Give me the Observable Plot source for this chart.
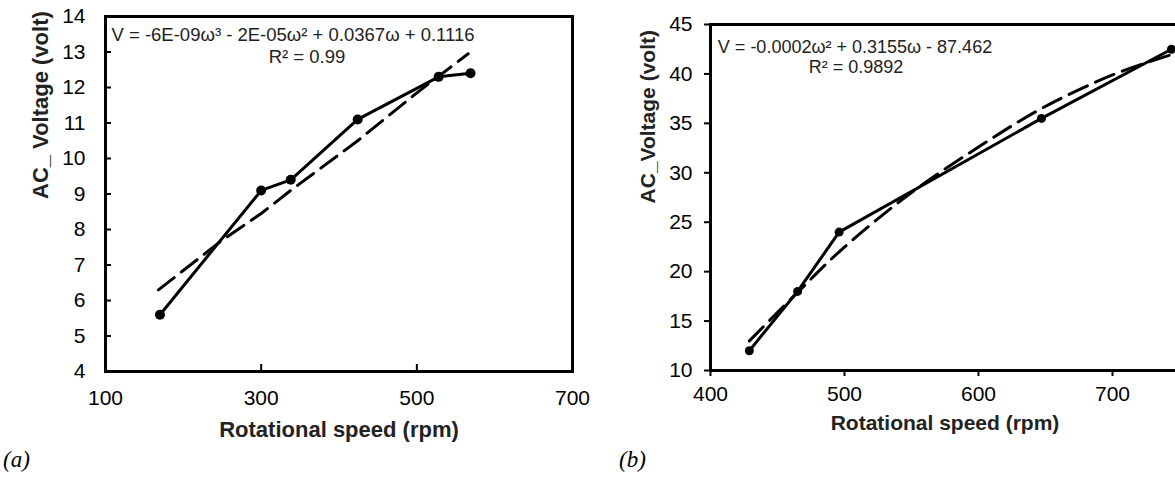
<!DOCTYPE html>
<html><head><meta charset="utf-8">
<script src="https://cdn.jsdelivr.net/npm/d3@7"></script>
<script src="https://cdn.jsdelivr.net/npm/@observablehq/plot@0.6"></script>
<style>
html,body{margin:0;padding:0;background:#fff;}
#wrap{position:relative;width:1175px;height:481px;overflow:hidden;background:#fff;}
.panel{position:absolute;top:0;width:600px;height:481px;}
.tag{position:absolute;font-family:"Liberation Serif","Times New Roman",serif;font-style:italic;font-size:23px;line-height:1;color:#000;}
</style></head><body>
<div id="wrap">
  <div id="pa" class="panel" style="left:0px"></div>
  <div id="pb" class="panel" style="left:600px"></div>
  <div class="tag" style="left:3px;top:448px">(a)</div>
  <div class="tag" style="left:619px;top:448px">(b)</div>
</div>
<script>
// Panel (a) data
const speedA = [170, 300, 338, 424, 528, 569];
const voltA = [5.6, 9.1, 9.4, 11.1, 12.3, 12.4];
const fitSpeedA = [168, 250, 300, 338, 424, 500, 566];
const fitVoltA = [6.3, 7.7, 8.45, 9.1, 10.5, 11.85, 12.95];
const xTicksA = [100, 300, 500, 700];
const yTicksA = [4, 5, 6, 7, 8, 9, 10, 11, 12, 13, 14];
const eqA = "V = -6E-09ω³ - 2E-05ω² + 0.0367ω + 0.1116";
const r2A = "R² = 0.99";
const yTitleA = "AC_ Voltage (volt)";

// Panel (b) data
const speedB = [429, 465, 496, 647, 744];
const voltB = [12.0, 18.0, 24.0, 35.5, 42.5];
const fitSpeedB = [429, 465, 496, 548, 600, 647, 700, 745];
const fitVoltB = [13.0, 17.9, 22.0, 27.8, 32.6, 36.5, 39.9, 42.0];
const xTicksB = [400, 500, 600, 700];
const yTicksB = [10, 15, 20, 25, 30, 35, 40, 45];
const eqB = "V = -0.0002ω² + 0.3155ω - 87.462";
const r2B = "R² = 0.9892";
const yTitleB = "AC_Voltage (volt)";

const xTitle = "Rotational speed (rpm)";

const FONT = "'Liberation Sans', Arial, sans-serif";
const ptsA = speedA.map((s, i) => ({s, v: voltA[i]}));
const fitA = fitSpeedA.map((s, i) => ({s, v: fitVoltA[i]}));
const ptsB = speedB.map((s, i) => ({s, v: voltB[i]}));
const fitB = fitSpeedB.map((s, i) => ({s, v: fitVoltB[i]}));

const svgStyle = {fontFamily: FONT, background: "transparent", color: "#000", overflow: "visible", maxWidth: "none"};

const plotA = Plot.plot({
  width: 600, height: 481,
  marginLeft: 105, marginRight: 28, marginTop: 16, marginBottom: 110,
  style: svgStyle,
  x: {domain: [100, 700]},
  y: {domain: [4, 14]},
  marks: [
    Plot.axisY(yTicksA, {tickSize: 0, tickPadding: 20, fontSize: 21, label: null}),
    Plot.axisX(xTicksA, {tickSize: 0, tickPadding: 19, fontSize: 21, label: null}),
    Plot.tickY(yTicksA, {y: d => d, insetRight: 461, stroke: "#000", strokeWidth: 2}),
    Plot.tickX(xTicksA, {x: d => d, insetTop: 348, insetBottom: -2, stroke: "#000", strokeWidth: 2}),
    Plot.line(fitA, {x: "s", y: "v", stroke: "#000", strokeWidth: 3, strokeDasharray: "20,9"}),
    Plot.line(ptsA, {x: "s", y: "v", stroke: "#000", strokeWidth: 3}),
    Plot.dot(ptsA, {x: "s", y: "v", r: 5, fill: "#000", stroke: null}),
    Plot.frame({stroke: "#000", strokeWidth: 3}),
    Plot.text([eqA], {text: d => d, frameAnchor: "top", lineAnchor: "middle", dx: -46, dy: 19, fontSize: 18.5, fill: "#222"}),
    Plot.text([r2A], {text: d => d, frameAnchor: "top", lineAnchor: "middle", dx: -32, dy: 41, fontSize: 18.5, fill: "#222"}),
    Plot.text([yTitleA], {text: d => d, frameAnchor: "left", lineAnchor: "middle", dx: -65, dy: 5, rotate: -90, fontSize: 22, fontWeight: "bold", fill: "#222"}),
    Plot.text([xTitle], {text: d => d, frameAnchor: "bottom", lineAnchor: "middle", dy: 58, fontSize: 22, fontWeight: "bold", fill: "#222"})
  ]
});
document.getElementById("pa").append(plotA);

const plotB = Plot.plot({
  width: 600, height: 481,
  marginLeft: 110, marginRight: 21, marginTop: 24, marginBottom: 111,
  style: svgStyle,
  x: {domain: [400, 750]},
  y: {domain: [10, 45]},
  marks: [
    Plot.axisY(yTicksB, {tickSize: 6, tickPadding: 12, fontSize: 21, strokeWidth: 2, label: null}),
    Plot.axisX(xTicksB, {tickSize: 6, tickPadding: 10, fontSize: 21, strokeWidth: 2, label: null}),
    Plot.line(fitB, {x: "s", y: "v", stroke: "#000", strokeWidth: 3, strokeDasharray: "20,9", curve: "catmull-rom"}),
    Plot.line(ptsB, {x: "s", y: "v", stroke: "#000", strokeWidth: 3}),
    Plot.dot(ptsB, {x: "s", y: "v", r: 4.5, fill: "#000", stroke: null}),
    Plot.frame({stroke: "#000", strokeWidth: 3}),
    Plot.text([eqB], {text: d => d, frameAnchor: "top", lineAnchor: "middle", dx: -90, dy: 23, fontSize: 18, fill: "#222"}),
    Plot.text([r2B], {text: d => d, frameAnchor: "top", lineAnchor: "middle", dx: -89, dy: 43, fontSize: 18, fill: "#222"}),
    Plot.text([yTitleB], {text: d => d, frameAnchor: "left", lineAnchor: "middle", dx: -62, dy: 6, rotate: -90, fontSize: 21, fontWeight: "bold", fill: "#222"}),
    Plot.text([xTitle], {text: d => d, frameAnchor: "bottom", lineAnchor: "middle", dy: 53, fontSize: 21, fontWeight: "bold", fill: "#222"})
  ]
});
document.getElementById("pb").append(plotB);
</script>
</body></html>
